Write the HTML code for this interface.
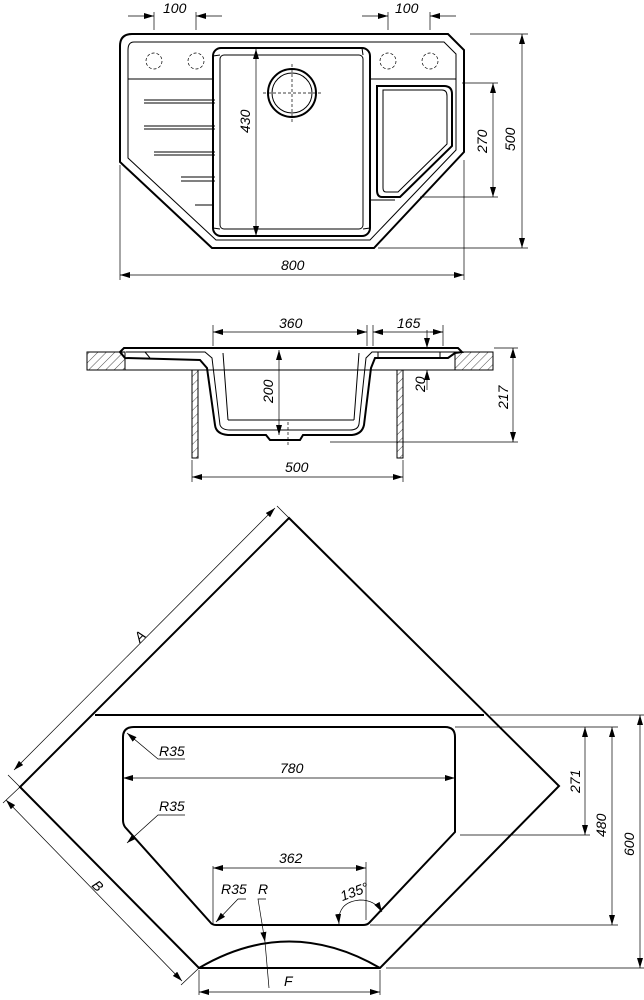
<!DOCTYPE html>
<html><head><meta charset="utf-8"><style>
html,body{margin:0;padding:0;background:#fff}
svg{display:block}
text{font-family:"Liberation Sans",sans-serif;font-style:italic;font-size:14px;fill:#000}
.o{fill:none;stroke:#000;stroke-width:2}
.t{fill:none;stroke:#000;stroke-width:1}
.d{fill:none;stroke:#000;stroke-width:0.7}
.ds{fill:none;stroke:#000;stroke-width:0.7;stroke-dasharray:3 2}
</style></head><body>
<svg width="644" height="1000" viewBox="0 0 644 1000">
<defs>
<marker id="a" viewBox="0 0 10 6" refX="10" refY="3" markerWidth="10" markerHeight="6" orient="auto-start-reverse" markerUnits="userSpaceOnUse"><path d="M0,0 L10,3 L0,6 z" fill="#000"/></marker>
<pattern id="h" width="6" height="6" patternUnits="userSpaceOnUse" patternTransform="rotate(45)"><line x1="0" y1="0" x2="0" y2="6" stroke="#000" stroke-width="0.7"/></pattern>
</defs>

<!-- ========== TOP VIEW ========== -->
<path class="o" d="M132,34 L448,34 L464,50 L464,152 L374,248 L212,248 L120,162 L120,46 Q120,34 132,34 Z"/>
<path class="t" d="M134,42 L444,42 L456,54 L456,150 L370,240 L216,240 L128,158 L128,50 Q128,42 134,42 Z"/>
<line class="t" x1="128" y1="79" x2="213" y2="79"/>
<line class="t" x1="370" y1="79" x2="456" y2="79"/>
<line class="t" x1="195" y1="205" x2="213" y2="205"/>
<line class="t" x1="370" y1="200" x2="395" y2="200"/>
<circle class="ds" cx="154" cy="61" r="8"/>
<circle class="ds" cx="196" cy="61" r="8"/>
<circle class="ds" cx="388" cy="61" r="8"/>
<circle class="ds" cx="430" cy="61" r="8"/>
<path class="t" d="M144,100 L215,100 M144,103 L215,103"/>
<path class="t" d="M144,126 L215,126 M144,129 L215,129"/>
<path class="t" d="M154,152 L215,152 M154,155 L215,155"/>
<path class="t" d="M181,177 L215,177 M181,181 L215,181"/>
<rect class="o" x="213" y="48" width="157" height="188" rx="8"/>
<rect class="t" x="220" y="55" width="143" height="174" rx="4"/>
<line class="t" x1="213" y1="56" x2="220" y2="55"/><line class="t" x1="362" y1="48" x2="363" y2="55"/>
<line class="t" x1="213" y1="228" x2="220" y2="229"/><line class="t" x1="370" y1="228" x2="363" y2="229"/>
<circle class="o" cx="292" cy="93" r="24"/>
<circle class="t" cx="292" cy="93" r="20"/>
<line class="ds" x1="263" y1="93" x2="322" y2="93"/>
<line class="ds" x1="292" y1="64" x2="292" y2="122"/>
<path class="o" d="M377,86 L444,86 Q452,86 452,94 L452,146 L400,197 L382,197 Q377,197 377,190 Z"/>
<path class="t" d="M383,90 L442,90 Q447,90 447,96 L447,144 L398,192 L386,192 Q383,192 383,188 Z"/>
<line class="d" x1="154" y1="12" x2="154" y2="30"/><line class="d" x1="196" y1="12" x2="196" y2="30"/>
<line class="d" x1="128" y1="16" x2="154" y2="16" marker-end="url(#a)"/><line class="d" x1="222" y1="16" x2="196" y2="16" marker-end="url(#a)"/>
<text x="163" y="13">100</text>
<line class="d" x1="388" y1="12" x2="388" y2="30"/><line class="d" x1="430" y1="12" x2="430" y2="30"/>
<line class="d" x1="362" y1="16" x2="388" y2="16" marker-end="url(#a)"/><line class="d" x1="456" y1="16" x2="430" y2="16" marker-end="url(#a)"/>
<text x="395" y="13">100</text>
<line class="d" x1="120" y1="165" x2="120" y2="280"/><line class="d" x1="464" y1="160" x2="464" y2="280"/>
<line class="d" x1="120" y1="275" x2="464" y2="275" marker-start="url(#a)" marker-end="url(#a)"/>
<text x="281" y="270">800</text>
<line class="d" x1="470" y1="34" x2="528" y2="34"/><line class="d" x1="378" y1="248" x2="528" y2="248"/>
<line class="d" x1="522" y1="34" x2="522" y2="248" marker-start="url(#a)" marker-end="url(#a)"/>
<text transform="translate(515,151) rotate(-90)">500</text>
<line class="d" x1="462" y1="83" x2="498" y2="83"/><line class="d" x1="420" y1="197" x2="498" y2="197"/>
<line class="d" x1="493" y1="83" x2="493" y2="197" marker-start="url(#a)" marker-end="url(#a)"/>
<text transform="translate(487,153) rotate(-90)">270</text>
<line class="d" x1="256" y1="49" x2="256" y2="236" marker-start="url(#a)" marker-end="url(#a)"/>
<text transform="translate(250,133) rotate(-90)">430</text>

<!-- ========== SECTION ========== -->
<rect x="87" y="352" width="38" height="18" fill="url(#h)" stroke="#000" stroke-width="1"/>
<rect x="455" y="352" width="38" height="18" fill="url(#h)" stroke="#000" stroke-width="1"/>
<rect x="192" y="370" width="6" height="88" fill="url(#h)" stroke="#000" stroke-width="1"/>
<rect x="397" y="370" width="6" height="88" fill="url(#h)" stroke="#000" stroke-width="1"/>
<line class="t" x1="125" y1="370" x2="455" y2="370"/>
<path class="o" d="M120,352 L124,348 L458,348 L462,352 L455,353 L448,358 L375,358 L371,368 L364,425 Q362,434 352,435 L303,435 L300,440 L270,440 L266,435 L228,435 Q216,434 215,425 L207,368 L200,360 L125,358 Z"/>
<path class="t" d="M126,352 L205,352 L212,358 L220,425 Q222,430 230,430 L350,430 Q358,430 359,424 L366,358 L372,352 L455,352"/>
<path class="t" d="M223,353 L228,420 M359,353 L354,420 M228,420 L354,420"/>
<path class="t" d="M378,352 L378,358 M440,352 L440,358 M145,352 L150,358"/>
<line class="ds" x1="288" y1="422" x2="288" y2="445"/>
<line class="d" x1="213" y1="325" x2="213" y2="346"/><line class="d" x1="367" y1="325" x2="367" y2="346"/>
<line class="d" x1="213" y1="332" x2="367" y2="332" marker-start="url(#a)" marker-end="url(#a)"/>
<text x="279" y="328">360</text>
<line class="d" x1="373" y1="325" x2="373" y2="346"/><line class="d" x1="443" y1="325" x2="443" y2="346"/>
<line class="d" x1="373" y1="332" x2="443" y2="332" marker-start="url(#a)"/>
<line class="d" x1="430" y1="332" x2="443" y2="332" marker-end="url(#a)"/>
<text x="397" y="328">165</text>
<line class="d" x1="427" y1="330" x2="427" y2="348" marker-end="url(#a)"/>
<line class="d" x1="427" y1="390" x2="427" y2="370" marker-end="url(#a)"/>
<text transform="translate(425,392) rotate(-90)">20</text>
<line class="d" x1="279" y1="350" x2="279" y2="435" marker-start="url(#a)" marker-end="url(#a)"/>
<text transform="translate(273,403) rotate(-90)">200</text>
<line class="d" x1="494" y1="348" x2="518" y2="348"/><line class="d" x1="330" y1="442" x2="518" y2="442"/>
<line class="d" x1="513" y1="348" x2="513" y2="442" marker-start="url(#a)" marker-end="url(#a)"/>
<text transform="translate(508,409) rotate(-90)">217</text>
<line class="d" x1="192" y1="460" x2="192" y2="482"/><line class="d" x1="403" y1="460" x2="403" y2="482"/>
<line class="d" x1="192" y1="477" x2="403" y2="477" marker-start="url(#a)" marker-end="url(#a)"/>
<text x="285" y="472">500</text>

<!-- ========== BOTTOM TEMPLATE ========== -->
<path class="o" d="M289,518 L559,786 L380,968 L199,968 L20,787 Z"/>
<line class="o" x1="95" y1="715" x2="484" y2="715"/>
<path class="o" d="M199,968 Q289,915 380,968"/>
<path class="o" d="M134,727 L445,727 Q455,727 455,737 L455,832 L369,923 Q367,925 363,925 L216,925 Q212,925 210,922 L125,827 Q123,824 123,820 L123,737 Q123,727 134,727 Z"/>
<line class="d" x1="289" y1="518" x2="277" y2="506"/><line class="d" x1="20" y1="787" x2="8" y2="775"/>
<line class="d" x1="275" y1="508" x2="14" y2="770" marker-start="url(#a)" marker-end="url(#a)"/>
<text transform="translate(140,643) rotate(-45)">A</text>
<line class="d" x1="20" y1="787" x2="3" y2="803"/><line class="d" x1="199" y1="968" x2="181" y2="985"/>
<line class="d" x1="6" y1="800" x2="182" y2="981" marker-start="url(#a)" marker-end="url(#a)"/>
<text transform="translate(91,886) rotate(45)">B</text>
<line class="d" x1="199" y1="970" x2="199" y2="995"/><line class="d" x1="380" y1="970" x2="380" y2="995"/>
<line class="d" x1="199" y1="992" x2="380" y2="992" marker-start="url(#a)" marker-end="url(#a)"/>
<text x="284" y="986">F</text>
<line class="d" x1="490" y1="715" x2="645" y2="715"/><line class="d" x1="386" y1="968" x2="645" y2="968"/>
<line class="d" x1="640" y1="715" x2="640" y2="968" marker-start="url(#a)" marker-end="url(#a)"/>
<text transform="translate(634,856) rotate(-90)">600</text>
<line class="d" x1="455" y1="727" x2="618" y2="727"/><line class="d" x1="370" y1="925" x2="618" y2="925"/>
<line class="d" x1="612" y1="727" x2="612" y2="925" marker-start="url(#a)" marker-end="url(#a)"/>
<text transform="translate(606,837) rotate(-90)">480</text>
<line class="d" x1="460" y1="835" x2="590" y2="835"/>
<line class="d" x1="585" y1="727" x2="585" y2="835" marker-start="url(#a)" marker-end="url(#a)"/>
<text transform="translate(580,793) rotate(-90)">271</text>
<line class="d" x1="123" y1="778" x2="455" y2="778" marker-start="url(#a)" marker-end="url(#a)"/>
<text x="280" y="773">780</text>
<line class="d" x1="213" y1="866" x2="213" y2="925"/><line class="d" x1="366" y1="862" x2="366" y2="920"/>
<line class="d" x1="213" y1="868" x2="366" y2="868" marker-start="url(#a)" marker-end="url(#a)"/>
<text x="279" y="863">362</text>
<path class="d" d="M185,759 L158,759 L127,733" marker-end="url(#a)"/>
<text x="159" y="756">R35</text>
<path class="d" d="M185,815 L158,815 L127,843" marker-end="url(#a)"/>
<text x="159" y="811">R35</text>
<path class="d" d="M246,899 L238,899 L216,922" marker-end="url(#a)"/>
<text x="221" y="894">R35</text>
<path class="d" d="M266,899 L258,899 L265,942" marker-end="url(#a)"/>
<line class="d" x1="265" y1="942" x2="269" y2="988"/>
<text x="258" y="894">R</text>
<path class="d" d="M339,924 Q337,902 360,900 Q375,900 382,912" marker-start="url(#a)" marker-end="url(#a)"/>
<text x="340" y="898" transform="rotate(-20,350,893)">135°</text>
</svg>
</body></html>
